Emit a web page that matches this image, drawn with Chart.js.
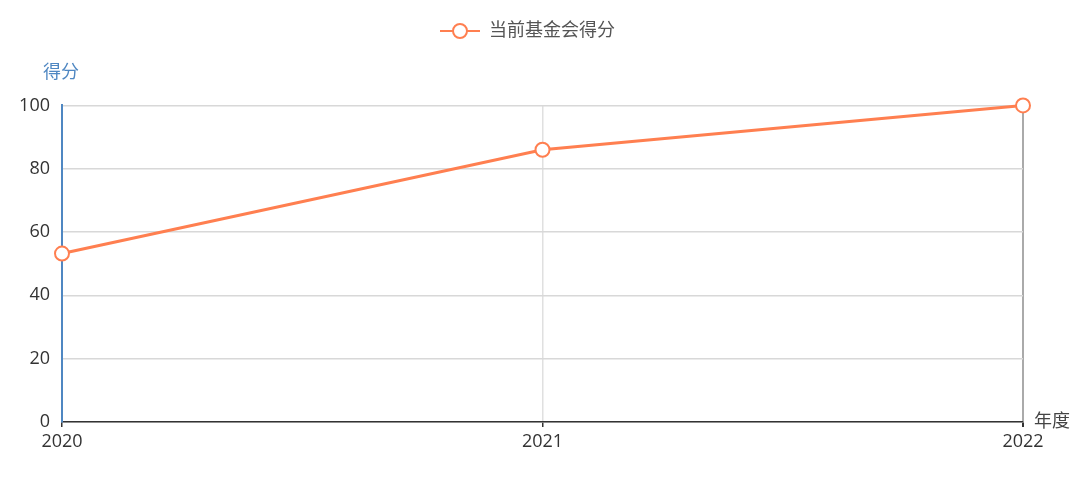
<!DOCTYPE html>
<html>
<head>
<meta charset="utf-8">
<script src="https://cdn.jsdelivr.net/npm/chart.js@4/dist/chart.umd.min.js"></script>
<style>
  html, body { margin: 0; padding: 0; background: #ffffff; }
  #wrap { width: 1080px; height: 490px; position: relative; }
</style>
</head>
<body>
<div id="wrap"><canvas id="c" width="1080" height="490"></canvas></div>
<script>
const categories = ['2020', '2021', '2022'];
const seriesName = '当前基金会得分';
const scores = [53.2, 86, 100];
const yTicks = [0, 20, 40, 60, 80, 100];
const yAxisName = '得分';
const xAxisName = '年度';

const FONT = "'Open Sans', 'Noto Sans CJK SC', sans-serif";
const LINE_COLOR = '#ff7f50';

// legend icon: line with hollow circle
const icon = document.createElement('canvas');
icon.width = 40; icon.height = 18;
(function () {
  const g = icon.getContext('2d');
  g.strokeStyle = LINE_COLOR; g.lineWidth = 2;
  g.beginPath(); g.moveTo(0, 9); g.lineTo(40, 9); g.stroke();
  g.beginPath(); g.arc(20, 9, 7, 0, Math.PI * 2);
  g.fillStyle = '#fff'; g.fill(); g.stroke();
})();

const placementPlugin = {
  id: 'placement',
  afterLayout(chart) {
    if (chart.titleBlock) {
      const w = chart.titleBlock.right - chart.titleBlock.left;
      chart.titleBlock.left = 43;
      chart.titleBlock.right = 43 + w;
    }
    if (chart.legend) {
      chart.legend.left = 32;
      chart.legend.right = 1023;
    }
  },
  afterDraw(chart) {
    const { ctx, chartArea } = chart;
    ctx.save();
    ctx.font = "18px " + FONT;
    ctx.fillStyle = '#444';
    ctx.textAlign = 'left';
    ctx.textBaseline = 'middle';
    ctx.fillText(xAxisName, chartArea.right + 11, chartArea.bottom);
    ctx.restore();
  }
};

new Chart(document.getElementById('c'), {
  type: 'line',
  data: {
    labels: categories,
    datasets: [{
      label: seriesName,
      data: scores,
      borderColor: LINE_COLOR,
      backgroundColor: '#ffffff',
      borderWidth: 3,
      pointRadius: 7,
      pointHoverRadius: 7,
      pointBorderWidth: 2,
      pointBorderColor: LINE_COLOR,
      pointBackgroundColor: '#ffffff',
      tension: 0,
      clip: false
    }]
  },
  options: {
    responsive: false,
    animation: false,
    devicePixelRatio: 1,
    layout: { padding: { left: 0, right: 57, top: 12, bottom: 0 } },
    plugins: {
      legend: {
        display: true,
        position: 'top',
        weight: 3000,
        labels: {
          usePointStyle: true,
          pointStyleWidth: 40,
          padding: 10,
          color: '#555',
          font: { size: 18, family: FONT },
          generateLabels(chart) {
            return [{ text: seriesName, pointStyle: icon, fontColor: '#555', datasetIndex: 0, lineWidth: 0, strokeStyle: 'transparent', fillStyle: 'transparent' }];
          }
        }
      },
      title: {
        display: true,
        text: yAxisName,
        align: 'start',
        color: '#4f87c2',
        font: { size: 18, family: FONT, weight: 'normal' },
        padding: { top: 11.6, bottom: 22.2 }
      },
      tooltip: { enabled: false }
    },
    scales: {
      x: {
        type: 'category',
        offset: false,
        afterFit(s) { s.height = 68; },
        border: { display: true, color: '#333', width: 1.5 },
        grid: {
          display: true,
          drawOnChartArea: true,
          drawTicks: true,
          tickLength: 5,
          tickColor: '#333',
          color: (c) => c.index === 0 ? 'rgba(0,0,0,0)' : (c.index === categories.length - 1 ? '#aaaaaa' : '#e0e0e0'),
          lineWidth: (c) => c.index === categories.length - 1 ? 2 : 1.5
        },
        ticks: {
          color: '#333',
          font: { size: 18, family: FONT },
          padding: 4,
          maxRotation: 0,
          autoSkip: false
        }
      },
      y: {
        min: 0,
        max: 100,
        afterFit(s) { s.width = 62; },
        afterBuildTicks(s) { s.ticks = yTicks.map(v => ({ value: v })); },
        border: { display: true, color: '#4f87c2', width: 2 },
        grid: {
          drawTicks: false,
          color: '#d8d8d8',
          lineWidth: 1.5
        },
        ticks: {
          color: '#333',
          font: { size: 18, family: FONT },
          padding: 12
        }
      }
    }
  },
  plugins: [placementPlugin]
});
</script>
</body>
</html>
